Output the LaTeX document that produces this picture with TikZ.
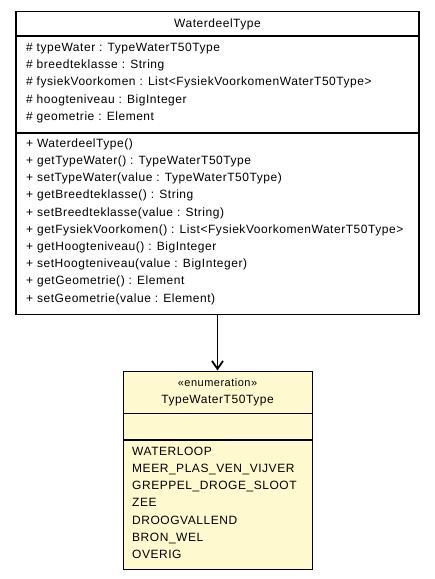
\documentclass[tikz,border=0pt]{standalone}
\usepackage{fontspec}
\setmainfont{Liberation Sans}
\newfontfamily\umlfont[LetterSpace=4.5]{Liberation Sans}
\usetikzlibrary{positioning, arrows.meta}

\definecolor{enumfill}{RGB}{255,249,208}

\begin{document}
\begin{tikzpicture}[x=1pt, y=-1pt]
  % UML, WaterdeelType -> TypeWaterT50Type
  \tikzset{
    part/.style={draw, line width=1.1pt, inner sep=0pt, minimum width=403pt},
    enumpart/.style={draw, line width=0.9pt, inner sep=0pt, minimum width=189pt, fill=enumfill},
    member/.style={anchor=west, inner sep=0pt, text height=8.6pt, text depth=0pt,
      font=\umlfont\fontsize{12}{14}\selectfont},
    title/.style={inner sep=0pt, text height=8.6pt, text depth=0pt,
      font=\umlfont\fontsize{12}{14}\selectfont}
  }
  \useasboundingbox (0,0) rectangle (435,579);

  % WaterdeelType
  \node[part, minimum height=24pt, anchor=north] (wdt-head) at (217.5,11) {};
  \node[part, minimum height=96pt, below=0pt of wdt-head] (wdt-attr) {};
  \node[part, minimum height=181pt, below=0pt of wdt-attr] (wdt-ops) {};
  \node[title] (wdt-name) at (wdt-head) {WaterdeelType};

  \foreach \txt [count=\i] in {
    {\# typeWater : TypeWaterT50Type},
    {\# breedteklasse : String},
    {\# fysiekVoorkomen : List<FysiekVoorkomenWaterT50Type>},
    {\# hoogteniveau : BigInteger},
    {\# geometrie : Element}}{
    \node[member] (attr\i) at (26, 47+17.3*\i-17.3) {\txt};
  }

  \foreach \txt [count=\i] in {
    {+ WaterdeelType()},
    {+ getTypeWater() : TypeWaterT50Type},
    {+ setTypeWater(value : TypeWaterT50Type)},
    {+ getBreedteklasse() : String},
    {+ setBreedteklasse(value : String)},
    {+ getFysiekVoorkomen() : List<FysiekVoorkomenWaterT50Type>},
    {+ getHoogteniveau() : BigInteger},
    {+ setHoogteniveau(value : BigInteger)},
    {+ getGeometrie() : Element},
    {+ setGeometrie(value : Element)}}{
    \node[member] (op\i) at (26, 143+17.2*\i-17.2) {\txt};
  }

  % TypeWaterT50Type
  \node[enumpart, minimum height=42pt, anchor=north] (twt-head) at (217.5,370.5) {};
  \node[enumpart, minimum height=26pt, below=0pt of twt-head] (twt-attr) {};
  \node[enumpart, minimum height=129pt, below=0pt of twt-attr] (twt-lit) {};
  \node[title, font=\umlfont\fontsize{11}{13}\selectfont] (twt-stereo) at (217.5,382) {«enumeration»};
  \node[title] (twt-name) at (217.5,399) {TypeWaterT50Type};

  \foreach \txt [count=\i] in {
    WATERLOOP, MEER\_PLAS\_VEN\_VIJVER, GREPPEL\_DROGE\_SLOOT, ZEE,
    DROOGVALLEND, BRON\_WEL, OVERIG}{
    \node[member] (lit\i) at (132, 451+17.2*\i-17.2) {\txt};
  }

  \draw[line width=1pt, -{Straight Barb[length=8pt, width=11pt, line width=1.8pt]}] (wdt-ops) -- (twt-head);
\end{tikzpicture}
\end{document}
